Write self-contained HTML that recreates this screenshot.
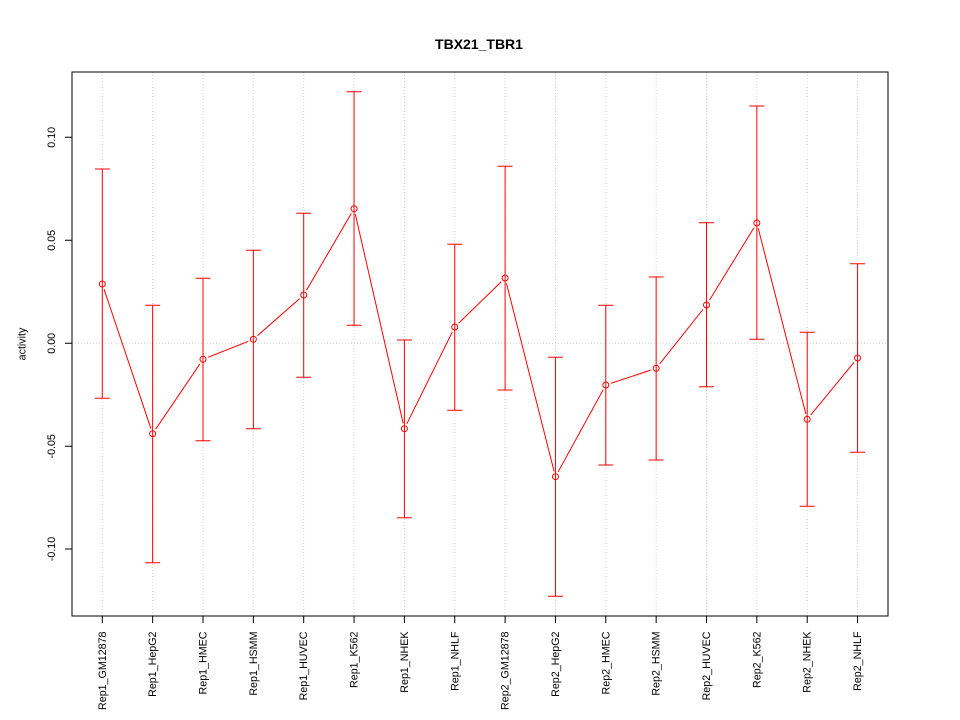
<!DOCTYPE html>
<html><head><meta charset="utf-8"><style>
html,body{margin:0;padding:0;background:#fff;}
svg{display:block;}
text{font-family:"Liberation Sans",Arial,sans-serif;fill:#000;}
</style></head><body>
<svg width="960" height="720" viewBox="0 0 960 720" xmlns="http://www.w3.org/2000/svg">
<rect width="960" height="720" fill="#fff"/>
<!-- grid -->
<g stroke="#d3d3d3" stroke-width="1" stroke-dasharray="1 2" fill="none">
<line x1="102.3" y1="72" x2="102.3" y2="616"/>
<line x1="152.65" y1="72" x2="152.65" y2="616"/>
<line x1="203" y1="72" x2="203" y2="616"/>
<line x1="253.35" y1="72" x2="253.35" y2="616"/>
<line x1="303.7" y1="72" x2="303.7" y2="616"/>
<line x1="354.05" y1="72" x2="354.05" y2="616"/>
<line x1="404.4" y1="72" x2="404.4" y2="616"/>
<line x1="454.75" y1="72" x2="454.75" y2="616"/>
<line x1="505.1" y1="72" x2="505.1" y2="616"/>
<line x1="555.45" y1="72" x2="555.45" y2="616"/>
<line x1="605.8" y1="72" x2="605.8" y2="616"/>
<line x1="656.15" y1="72" x2="656.15" y2="616"/>
<line x1="706.5" y1="72" x2="706.5" y2="616"/>
<line x1="756.85" y1="72" x2="756.85" y2="616"/>
<line x1="807.2" y1="72" x2="807.2" y2="616"/>
<line x1="857.55" y1="72" x2="857.55" y2="616"/>
<line x1="72" y1="343.3" x2="888" y2="343.3"/>
</g>
<!-- connecting line -->
<polyline fill="none" stroke="#ff0000" stroke-width="1" points="102.3,284 152.65,433.7 203,359.3 253.35,339.3 303.7,295 354.05,208.7 404.4,428.7 454.75,327 505.1,278 555.45,476.7 605.8,385 656.15,368.3 706.5,305 756.85,223 807.2,419.3 857.55,358"/>
<!-- gaps around points -->
<g fill="#fff" stroke="none">
<circle cx="102.3" cy="284" r="5.5"/>
<circle cx="152.65" cy="433.7" r="5.5"/>
<circle cx="203" cy="359.3" r="5.5"/>
<circle cx="253.35" cy="339.3" r="5.5"/>
<circle cx="303.7" cy="295" r="5.5"/>
<circle cx="354.05" cy="208.7" r="5.5"/>
<circle cx="404.4" cy="428.7" r="5.5"/>
<circle cx="454.75" cy="327" r="5.5"/>
<circle cx="505.1" cy="278" r="5.5"/>
<circle cx="555.45" cy="476.7" r="5.5"/>
<circle cx="605.8" cy="385" r="5.5"/>
<circle cx="656.15" cy="368.3" r="5.5"/>
<circle cx="706.5" cy="305" r="5.5"/>
<circle cx="756.85" cy="223" r="5.5"/>
<circle cx="807.2" cy="419.3" r="5.5"/>
<circle cx="857.55" cy="358" r="5.5"/>
</g>
<!-- error bars -->
<g stroke="#ff0000" stroke-width="1" fill="none">
<path d="M102.3 169V398.3M94.8 169H109.8M94.8 398.3H109.8"/>
<path d="M152.65 305.3V562.7M145.15 305.3H160.15M145.15 562.7H160.15"/>
<path d="M203 278.3V440.7M195.5 278.3H210.5M195.5 440.7H210.5"/>
<path d="M253.35 250.3V428.7M245.85 250.3H260.85M245.85 428.7H260.85"/>
<path d="M303.7 213.3V377.3M296.2 213.3H311.2M296.2 377.3H311.2"/>
<path d="M354.05 91.7V325.3M346.55 91.7H361.55M346.55 325.3H361.55"/>
<path d="M404.4 340V517.7M396.9 340H411.9M396.9 517.7H411.9"/>
<path d="M454.75 244.3V410.3M447.25 244.3H462.25M447.25 410.3H462.25"/>
<path d="M505.1 166.3V390M497.6 166.3H512.6M497.6 390H512.6"/>
<path d="M555.45 357.3V596.3M547.95 357.3H562.95M547.95 596.3H562.95"/>
<path d="M605.8 305.3V465M598.3 305.3H613.3M598.3 465H613.3"/>
<path d="M656.15 277V460M648.65 277H663.65M648.65 460H663.65"/>
<path d="M706.5 222.7V386.7M699 222.7H714M699 386.7H714"/>
<path d="M756.85 106V339.3M749.35 106H764.35M749.35 339.3H764.35"/>
<path d="M807.2 332.3V506.3M799.7 332.3H814.7M799.7 506.3H814.7"/>
<path d="M857.55 263.7V452.3M850.05 263.7H865.05M850.05 452.3H865.05"/>
</g>
<!-- points -->
<g fill="none" stroke="#ff0000" stroke-width="1">
<circle cx="102.3" cy="284" r="3"/>
<circle cx="152.65" cy="433.7" r="3"/>
<circle cx="203" cy="359.3" r="3"/>
<circle cx="253.35" cy="339.3" r="3"/>
<circle cx="303.7" cy="295" r="3"/>
<circle cx="354.05" cy="208.7" r="3"/>
<circle cx="404.4" cy="428.7" r="3"/>
<circle cx="454.75" cy="327" r="3"/>
<circle cx="505.1" cy="278" r="3"/>
<circle cx="555.45" cy="476.7" r="3"/>
<circle cx="605.8" cy="385" r="3"/>
<circle cx="656.15" cy="368.3" r="3"/>
<circle cx="706.5" cy="305" r="3"/>
<circle cx="756.85" cy="223" r="3"/>
<circle cx="807.2" cy="419.3" r="3"/>
<circle cx="857.55" cy="358" r="3"/>
</g>
<!-- box and axes -->
<rect x="72" y="72" width="816" height="544" fill="none" stroke="#000" stroke-width="1"/>
<g stroke="#000" stroke-width="1" fill="none">
<line x1="72" y1="137.3" x2="72" y2="549"/>
<path d="M72 137.3H65M72 240.3H65M72 343.3H65M72 446.3H65M72 549H65"/>
<line x1="102.3" y1="616" x2="857.55" y2="616"/>
<path d="M102.3 616V623M152.65 616V623M203 616V623M253.35 616V623M303.7 616V623M354.05 616V623M404.4 616V623M454.75 616V623M505.1 616V623M555.45 616V623M605.8 616V623M656.15 616V623M706.5 616V623M756.85 616V623M807.2 616V623M857.55 616V623"/>
</g>
<!-- y tick labels -->
<g font-size="10.7" text-anchor="middle">
<text transform="translate(55,137.3) rotate(-90)">0.10</text>
<text transform="translate(55,240.3) rotate(-90)">0.05</text>
<text transform="translate(55,343.3) rotate(-90)">0.00</text>
<text transform="translate(55,446.3) rotate(-90)">-0.05</text>
<text transform="translate(55,549) rotate(-90)">-0.10</text>
</g>
<text font-size="10.7" text-anchor="middle" transform="translate(25.5,344) rotate(-90)">activity</text>
<!-- x tick labels -->
<g font-size="10.7" text-anchor="end">
<text transform="translate(105.8,631.5) rotate(-90)">Rep1_GM12878</text>
<text transform="translate(156.15,631.5) rotate(-90)">Rep1_HepG2</text>
<text transform="translate(206.5,631.5) rotate(-90)">Rep1_HMEC</text>
<text transform="translate(256.85,631.5) rotate(-90)">Rep1_HSMM</text>
<text transform="translate(307.2,631.5) rotate(-90)">Rep1_HUVEC</text>
<text transform="translate(357.55,631.5) rotate(-90)">Rep1_K562</text>
<text transform="translate(407.9,631.5) rotate(-90)">Rep1_NHEK</text>
<text transform="translate(458.25,631.5) rotate(-90)">Rep1_NHLF</text>
<text transform="translate(508.6,631.5) rotate(-90)">Rep2_GM12878</text>
<text transform="translate(558.95,631.5) rotate(-90)">Rep2_HepG2</text>
<text transform="translate(609.3,631.5) rotate(-90)">Rep2_HMEC</text>
<text transform="translate(659.65,631.5) rotate(-90)">Rep2_HSMM</text>
<text transform="translate(710,631.5) rotate(-90)">Rep2_HUVEC</text>
<text transform="translate(760.35,631.5) rotate(-90)">Rep2_K562</text>
<text transform="translate(810.7,631.5) rotate(-90)">Rep2_NHEK</text>
<text transform="translate(861.05,631.5) rotate(-90)">Rep2_NHLF</text>
</g>
<text x="479" y="49" font-size="14" font-weight="bold" text-anchor="middle">TBX21_TBR1</text>
</svg>
</body></html>
